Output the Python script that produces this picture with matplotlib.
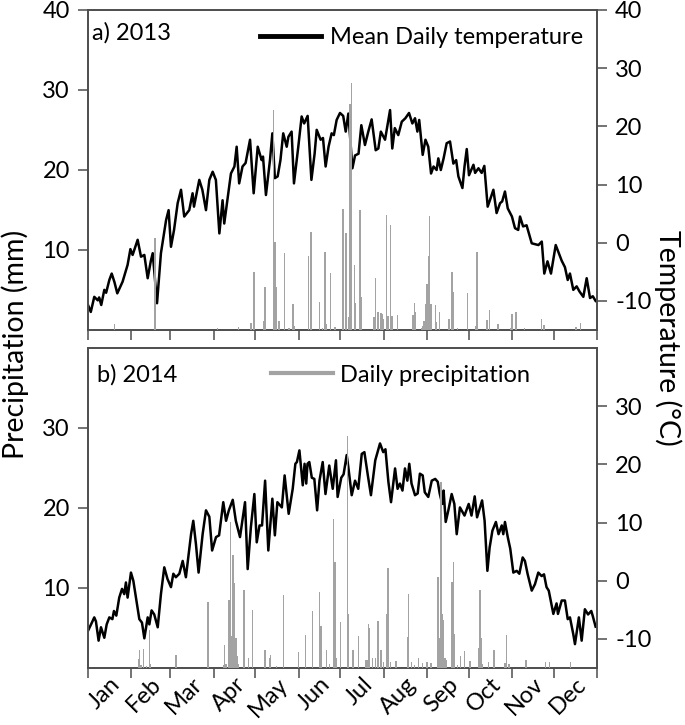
import matplotlib
matplotlib.use('Agg')
import matplotlib.pyplot as plt
from matplotlib.lines import Line2D

plt.rcParams['font.family'] = ['Lato', 'DejaVu Sans']
plt.rcParams['axes.unicode_minus'] = False

months = ['Jan', 'Feb', 'Mar', 'Apr', 'May', 'Jun', 'Jul', 'Aug', 'Sep', 'Oct', 'Nov', 'Dec']
month_start = [0, 31, 59, 90, 120, 151, 181, 212, 243, 273, 304, 334, 365]

# ---- 2013 mean daily temperature (day of year from Jan 1, deg C) ----
t13_day = [0, 2, 4.5, 7, 8, 9.5, 11.7, 13, 15.3, 17, 19, 21, 24.8, 28.4, 30.4, 32, 35.6, 38, 40.4, 42.8,
           45, 46.4, 49.5, 52.3, 56, 57.8, 59.5, 61.7, 64.3, 66.7, 69, 72.6, 75, 76, 79.8, 82, 84.6, 87, 89.4,
           91.7, 94.2, 96.5, 97.7, 102.5, 105, 106.6, 108.4, 110.8, 113, 116.2, 118.8, 121.7, 124.5, 125.5,
           127.6, 130.5, 132.2, 134, 136, 138, 140, 142.5, 143.7, 146, 147.7, 150.8, 153.2, 155, 157.5, 160.2,
           162.5, 164, 166.8, 168.5, 170.4, 172.5, 174.7, 176.3, 178.3, 180.7, 183, 184.8, 186.7, 189.6,
           191.5, 194, 196, 198.6, 201, 203.4, 206.3, 208.2, 210, 213, 216.6, 218.2, 220, 222.5, 225, 227.6,
           230.2, 232.6, 234.5, 236.2, 237.5, 240, 242, 244, 246, 247.8, 250, 251.2, 253, 255, 257.2, 259.6,
           262, 264, 265.6, 268.5, 270, 271.6, 273.2, 276.4, 277.6, 280, 282.3, 284.2, 286.6, 288.2, 290.7,
           293, 295.5, 297, 299, 301, 304, 306.2, 308.5, 309.8, 312, 314.5, 318.2, 323, 325.4, 327.2, 329.5,
           332, 335.4, 339.7, 342, 344, 345.6, 348, 350.4, 352.5, 355.2, 357.6, 360, 362, 364]
t13_val = [-10.7, -11.9, -9.3, -9.9, -9.4, -10.7, -8.1, -8.6, -6.4, -5.3, -6.8, -8.7, -6.7, -3.8, -1.1, -2.1,
           0.5, -2.4, -2.1, -6.1, -3.2, -1.8, -10.4, -1.8, 3.9, 5.6, -0.7, 2.2, 6.8, 9.1, 4.5, 5.6, 8.5, 6.2,
           10.8, 9.1, 5.6, 10.8, 12.2, 10.8, 1.6, 7.3, 3.3, 11.9, 13.1, 16.5, 10.2, 13.1, 13.7, 17.7, 8.5, 16.5,
           14.2, 14.8, 8.2, 14.2, 18.8, 11.1, 11.4, 14.2, 18.8, 16.5, 18.2, 19.1, 10.2, 16.5, 21.7, 20.5, 21.8,
           10.8, 15.3, 19.4, 17.7, 18.0, 13.1, 16.5, 18.8, 18.5, 21.1, 22.3, 21.8, 19.1, 22.2, 12.8, 15.0, 15.3,
           20.2, 16.8, 19.1, 21.2, 15.9, 16.2, 19.1, 17.7, 22.8, 16.2, 19.7, 18.5, 20.8, 21.4, 22.3, 20.5, 21.4,
           19.1, 21.1, 15.1, 17.7, 16.5, 11.9, 13.1, 12.5, 14.5, 12.5, 14.5, 17.1, 17.4, 13.6, 14.2, 11.4, 9.4,
           13.1, 16.1, 11.6, 13.4, 12.0, 12.8, 12.0, 13.2, 6.2, 7.3, 9.1, 5.1, 6.8, 7.1, 8.8, 5.9, 4.5, 2.5, 2.2,
           4.5, 2.8, 3.0, -0.1, -0.4, 0.2, -5.3, -3.2, -5.3, -0.4, -3.1, -4.2, -6.4, -5.3, -8.1, -7.5, -8.4, -9.3,
           -6.1, -9.5, -9.2, -10.0]

# ---- 2013 daily precipitation (day of year, mm) ----
p13_day = [19, 48, 93, 108, 117, 119, 126, 127, 133, 134, 135, 137, 141, 144, 147, 148, 158, 160, 166, 168,
           170, 171, 174, 177, 183, 185, 187, 188, 189, 191, 192, 195, 196, 205, 206, 208, 210, 211, 212, 214,
           215, 217, 218, 222, 233, 234, 235, 239, 240, 241, 242, 243, 244, 245, 246, 249, 250, 252, 259, 261,
           262, 265, 272, 278, 279, 286, 288, 294, 303, 304, 307, 313, 325, 327, 350, 353]
p13_val = [0.8, 11.5, 0.3, 0.4, 0.9, 7.3, 1.1, 5.4, 27.5, 11.0, 5.4, 1.1, 9.6, 0.3, 3.3, 0.5, 9.2, 12.3, 3.5,
           0.3, 9.7, 0.8, 7.1, 0.4, 15.1, 12.1, 1.6, 28.3, 30.9, 8.1, 3.4, 15.0, 4.1, 1.6, 6.5, 2.2, 2.1, 2.0,
           1.4, 14.4, 1.8, 13.1, 1.8, 1.9, 1.9, 3.4, 2.3, 0.3, 0.5, 1.1, 3.3, 5.7, 9.2, 14.2, 3.3, 3.1, 1.0, 2.3,
           1.4, 7.2, 4.8, 0.3, 4.6, 0.5, 9.8, 1.3, 2.5, 0.8, 0.3, 2.0, 2.2, 0.2, 1.4, 0.6, 0.4, 0.9]

# ---- 2014 mean daily temperature ----
t14_day = [0, 2.2, 4.5, 5.7, 7.6, 9.3, 11.7, 13.4, 15.3, 17.5, 18.6, 20.3, 22.4, 24.4, 26, 27.2, 28.4, 30.8,
           32.5, 34.4, 36.8, 38.7, 40.4, 42.8, 44, 45.6, 47.5, 50, 52.3, 54.7, 57, 59.5, 61.2, 63, 65.5, 67.9,
           70.2, 73.9, 75.5, 77.4, 79.3, 82.2, 84.6, 87, 89, 91.8, 94, 97, 99, 101, 103.8, 106, 109, 112.6,
           114.5, 116.8, 119.3, 121, 123, 124.8, 127, 129.3, 132.2, 134, 135.8, 139, 141, 143.9, 146.8, 148.7,
           149.8, 151.6, 154, 155.3, 156.5, 157.4, 158.7, 160.5, 162.3, 164.3, 166, 168.3, 170.3, 173, 175.5,
           177.8, 179, 181.6, 183.3, 185.5, 186.7, 189.1, 191.5, 193.8, 196.3, 198.2, 200.8, 202.9, 206, 209.4,
           211.7, 213.3, 215.4, 217.3, 220.2, 222, 223.7, 225.5, 227.3, 229, 230.4, 232, 234.5, 236.4, 238, 240,
           241.5, 244, 246.5, 249, 250.8, 252.2, 254, 255, 256.5, 258.4, 260.8, 262.7, 264.4, 266.7, 270, 273,
           275, 277.3, 279, 282.6, 284.4, 286.4, 288, 290, 292.5, 294.4, 296.7, 297.8, 299, 301, 302.8, 305,
           307.4, 309.3, 311.7, 313.3, 315.3, 318.2, 320.5, 322.9, 325.3, 327, 328.8, 330.4, 333.7, 336, 337,
           339.7, 342, 344, 345.6, 348, 349.2, 352, 354, 356.3, 358.6, 360.9, 362, 364]
t14_val = [-8.6, -7.5, -6.3, -7.0, -10.3, -8.0, -9.8, -7.5, -6.3, -6.6, -5.2, -6.0, -2.9, -1.4, -2.3, -0.3,
           -2.9, 1.4, 0.0, -2.9, -6.6, -7.2, -9.9, -6.3, -7.5, -5.1, -5.8, -8.0, -2.3, 2.3, 0.3, -1.1, 1.2, 0.6,
           1.2, 3.4, 0.6, 8.0, 10.3, 6.3, 1.4, 8.0, 12.1, 11.0, 5.2, 7.5, 7.8, 13.5, 10.3, 12.1, 13.9, 10.3, 7.5,
           13.5, 2.0, 9.2, 14.9, 6.6, 9.5, 9.5, 17.2, 5.2, 14.1, 7.8, 13.5, 12.6, 18.1, 11.5, 15.8, 20.1, 20.4,
           22.4, 16.4, 20.1, 16.7, 20.1, 20.4, 17.7, 17.5, 12.1, 17.2, 20.4, 14.9, 19.8, 15.8, 20.7, 14.4, 17.7,
           18.3, 21.6, 19.5, 14.7, 17.2, 15.8, 21.8, 22.1, 17.9, 14.7, 20.7, 23.6, 22.1, 22.6, 17.0, 13.5, 19.3,
           15.8, 16.7, 15.5, 19.3, 17.2, 20.1, 16.7, 14.7, 15.0, 18.4, 18.1, 15.2, 14.4, 17.2, 17.5, 17.0, 15.0,
           13.2, 15.5, 10.1, 12.1, 14.9, 13.2, 8.0, 12.6, 11.2, 13.2, 11.2, 14.5, 10.9, 13.8, 10.3, 1.7, 5.7, 8.6,
           10.1, 8.0, 9.5, 8.0, 10.1, 7.5, 5.5, 1.4, 1.7, 1.2, 4.0, 3.4, 1.1, -1.7, -0.6, 1.4, 0.8, 1.1, -1.1,
           -1.7, -5.7, -3.9, -5.7, -3.4, -3.4, -6.6, -6.3, -9.2, -10.9, -6.3, -10.3, -4.9, -5.8, -5.2, -6.1, -7.9]

# ---- 2014 daily precipitation ----
p14_day = [36, 37, 38, 40, 42, 44, 45, 63, 86, 97, 98, 99, 101, 102, 103, 104, 105, 106, 107, 108, 112, 115,
           118, 127, 130, 131, 135, 140, 151, 156, 161, 166, 167, 171, 173, 176, 177, 178, 181, 186, 187, 190,
           194, 199, 200, 201, 202, 204, 206, 208, 210, 212, 214, 215, 217, 221, 229, 230, 232, 234, 237, 240,
           243, 246, 251, 252, 253, 254, 255, 256, 257, 261, 262, 263, 265, 267, 270, 274, 280, 281, 282, 283,
           287, 291, 299, 300, 302, 314, 328, 331, 346]
p14_val = [1.1, 2.3, 0.4, 2.4, 0.3, 4.7, 0.5, 1.6, 8.3, 0.4, 2.9, 0.5, 8.5, 18.3, 4.0, 14.1, 10.6, 3.7, 1.5,
           0.5, 9.8, 1.2, 7.2, 2.2, 1.2, 1.6, 0.2, 9.1, 2.0, 4.1, 7.1, 9.5, 5.2, 2.3, 0.5, 18.6, 13.3, 1.3, 5.7,
           29.0, 6.8, 2.3, 4.0, 1.0, 1.0, 5.5, 5.0, 1.2, 1.2, 5.9, 2.2, 0.8, 6.8, 12.5, 0.8, 0.9, 3.9, 9.3, 0.8,
           0.4, 1.2, 0.6, 0.8, 0.6, 11.4, 3.7, 23.3, 6.8, 6.0, 1.3, 1.0, 10.8, 13.3, 4.3, 0.4, 1.5, 2.1, 0.9,
           2.5, 9.8, 3.7, 0.5, 0.8, 2.3, 0.6, 4.1, 0.5, 1.0, 0.8, 0.8, 0.8]

TICK_FS = 17
LABEL_FS = 20.5
SPINE_C = '#4d4d4d'
BAR_C = '#a3a3a3'

W, H = 685, 725
fig = plt.figure(figsize=(W / 100, H / 100), dpi=100)


def make_panel(top_px, bot_px, tday, tval, pday, pval, p_ticks, t_ticks, show_months):
    ax_t = fig.add_axes([88 / W, 1 - bot_px / H, (597 - 88) / W, (bot_px - top_px) / H])
    ax_t.plot(tday, tval, color='black', lw=1.8, zorder=2)
    ax_t.set_ylim(-15, 40)
    ax_t.set_xlim(0, 365)
    ax_p = ax_t.twinx()
    ax_p.bar(pday, pval, width=1.0, color=BAR_C, zorder=3)
    ax_p.set_ylim(0, 40)
    ax_t.yaxis.tick_right()
    ax_p.yaxis.tick_left()
    ax_t.set_yticks(t_ticks)
    ax_p.set_yticks(p_ticks)
    ax_t.set_xticks(month_start)
    ax_t.set_xticklabels([])
    if show_months:
        mids = [(month_start[i] + month_start[i + 1]) / 2 for i in range(12)]
        ax_t.set_xticks(mids, months, minor=True)
        for lab in ax_t.get_xticklabels(minor=True):
            lab.set_rotation(45)
            lab.set_ha('right')
            lab.set_rotation_mode('anchor')
            lab.set_fontsize(TICK_FS)
    ax_t.tick_params(axis='x', which='minor', length=0, pad=4)
    for ax in (ax_t, ax_p):
        ax.tick_params(axis='both', which='major', direction='out', length=7, width=1.1,
                       color=SPINE_C, labelsize=TICK_FS, pad=6)
        for s in ax.spines.values():
            s.set_color(SPINE_C)
            s.set_linewidth(1.2)
    return ax_t, ax_p


ax1t, ax1p = make_panel(10, 330, t13_day, t13_val, p13_day, p13_val,
                        [10, 20, 30, 40], [-10, 0, 10, 20, 30, 40], False)
ax2t, ax2p = make_panel(348, 668, t14_day, t14_val, p14_day, p14_val,
                        [10, 20, 30], [-10, 0, 10, 20, 30], True)

ax1p.text(0.008, 0.928, 'a) 2013', transform=ax1p.transAxes, ha='left', va='center', fontsize=TICK_FS)
ax2p.text(0.017, 0.916, 'b) 2014', transform=ax2p.transAxes, ha='left', va='center', fontsize=TICK_FS)

ax1p.legend(handles=[Line2D([], [], color='black', lw=3.5)], labels=['Mean Daily temperature'],
            loc='center right', bbox_to_anchor=(0.9725, 0.9125), frameon=False, fontsize=TICK_FS,
            handlelength=2.6, handletextpad=0.38, borderpad=0, borderaxespad=0)
ax2p.legend(handles=[Line2D([], [], color=BAR_C, lw=3)], labels=['Daily precipitation'],
            loc='center right', bbox_to_anchor=(0.868, 0.9156), frameon=False, fontsize=TICK_FS,
            handlelength=2.6, handletextpad=0.3, borderpad=0, borderaxespad=0)

fig.text(15 / W, 1 - 344 / H, 'Precipitation (mm)', rotation=90, ha='center', va='center', fontsize=LABEL_FS)
fig.text(668 / W, 1 - 338 / H, 'Temperature (°C)', rotation=270, ha='center', va='center', fontsize=LABEL_FS)

fig.savefig('out.png', dpi=100)
